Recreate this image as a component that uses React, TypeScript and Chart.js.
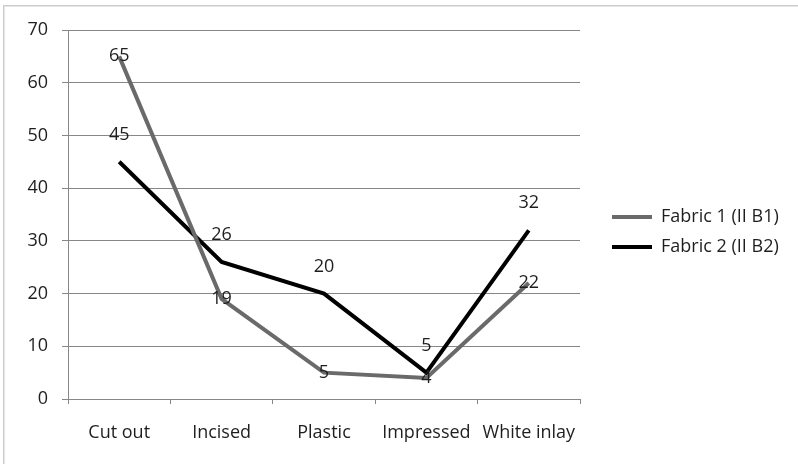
import React, { useEffect, useRef } from "react";
import { Chart, registerables } from "chart.js";

Chart.register(...registerables);

const categories = ["Cut out", "Incised", "Plastic", "Impressed", "White inlay"];
const fabric1 = [65, 19, 5, 4, 22];
const fabric2 = [45, 26, 20, 5, 32];
const seriesLabels = ["Fabric 1 (II B1)", "Fabric 2 (II B2)"];
const seriesColors = ["#6a6a6a", "#000000"];
const labelOffsets = [0, -27];
const yMin = 0;
const yMax = 70;
const yStep = 10;

const FONT = "'Open Sans', sans-serif";
const TEXT = "#1e1e1e";
const GRID = "#878787";

const backgroundPlugin = {
  id: "bgFrame",
  beforeDraw(chart: any) {
    const ctx = chart.ctx;
    ctx.save();
    ctx.fillStyle = "#ffffff";
    ctx.fillRect(0, 0, chart.width, chart.height);
    ctx.strokeStyle = "#cdcdcd";
    ctx.lineWidth = 1.5;
    ctx.strokeRect(3.75, 5.75, chart.width + 20, chart.height + 20);
    ctx.restore();
  },
};

const dataLabelPlugin = {
  id: "dataLabels",
  afterDatasetsDraw(chart: any) {
    const ctx = chart.ctx;
    ctx.save();
    ctx.font = `18px ${FONT}`;
    ctx.fillStyle = TEXT;
    ctx.textAlign = "center";
    ctx.textBaseline = "middle";
    chart.data.datasets.forEach((ds: any, di: number) => {
      const meta = chart.getDatasetMeta(di);
      meta.data.forEach((el: any, i: number) => {
        ctx.fillText(String(ds.data[i]), el.x, el.y + labelOffsets[di]);
      });
    });
    ctx.restore();
  },
};

export default function App() {
  const ref = useRef<HTMLCanvasElement | null>(null);

  useEffect(() => {
    document.body.style.margin = "0";
    if (!ref.current) return;
    const chart = new Chart(ref.current, {
      type: "line",
      data: {
        labels: categories,
        datasets: [
          {
            label: seriesLabels[0],
            data: fabric1,
            borderColor: seriesColors[0],
            backgroundColor: seriesColors[0],
            borderWidth: 4,
            pointRadius: 0,
            tension: 0,
          },
          {
            label: seriesLabels[1],
            data: fabric2,
            borderColor: seriesColors[1],
            backgroundColor: seriesColors[1],
            borderWidth: 4,
            pointRadius: 0,
            tension: 0,
          },
        ],
      },
      options: {
        animation: false,
        responsive: false,
        layout: { padding: { top: 0, bottom: 0, left: 0, right: 16 } },
        plugins: {
          tooltip: { enabled: false },
          legend: {
            position: "right",
            align: "center",
            maxWidth: 182,
            labels: {
              font: { family: FONT, size: 18 },
              color: TEXT,
              boxWidth: 40,
              boxHeight: 4,
              padding: 12,
              generateLabels: (c: any) =>
                c.data.datasets.map((ds: any, i: number) => ({
                  text: ds.label,
                  fillStyle: ds.borderColor,
                  strokeStyle: ds.borderColor,
                  lineWidth: 0,
                  fontColor: TEXT,
                  hidden: false,
                  datasetIndex: i,
                })),
            },
          },
        },
        scales: {
          x: {
            type: "category",
            offset: true,
            grid: {
              display: true,
              drawOnChartArea: false,
              drawTicks: true,
              tickLength: 5,
              color: GRID,
              offset: true,
            },
            border: { display: true, color: GRID, width: 1 },
            ticks: { font: { family: FONT, size: 18 }, color: TEXT, padding: 18, maxRotation: 0 },
            afterFit: (s: any) => {
              s.height = 65;
            },
          },
          xTop: {
            type: "category",
            position: "top",
            display: true,
            grid: { display: false },
            border: { display: false },
            ticks: { display: false },
            afterFit: (s: any) => {
              s.height = 30;
            },
          },
          y: {
            min: yMin,
            max: yMax,
            grid: { color: GRID, tickLength: 6, drawTicks: true },
            border: { display: true, color: GRID, width: 1 },
            ticks: { stepSize: yStep, font: { family: FONT, size: 18 }, color: TEXT, padding: 14 },
            afterFit: (s: any) => {
              s.width = 68;
            },
          },
          y2: {
            position: "right",
            display: true,
            grid: { display: false },
            border: { display: false },
            ticks: { display: false },
            afterFit: (s: any) => {
              s.width = 20;
            },
          },
        },
      },
      plugins: [backgroundPlugin, dataLabelPlugin],
    });
    return () => chart.destroy();
  }, []);

  return (
    <div style={{ width: 798, height: 464 }}>
      <canvas ref={ref} width={798} height={464} style={{ display: "block" }} />
    </div>
  );
}
